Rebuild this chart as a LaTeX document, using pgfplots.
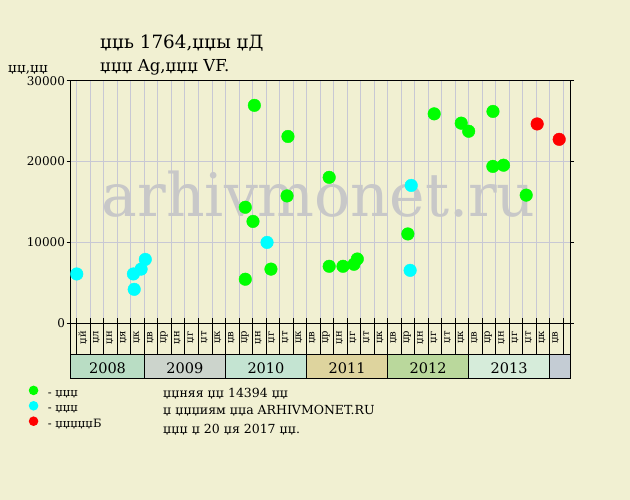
\documentclass[border=0pt]{standalone}
\usepackage{fontspec}
\setmainfont{DejaVu Serif}
\usepackage{pgfplots}
\pgfplotsset{compat=1.18}
\definecolor{bg}{RGB}{241,240,210}
\definecolor{gridc}{RGB}{200,200,212}
\definecolor{wm}{RGB}{200,200,200}
\definecolor{cg}{RGB}{0,255,0}
\definecolor{cc}{RGB}{0,255,255}
\definecolor{cr}{RGB}{255,0,0}
\definecolor{y08}{RGB}{185,221,196}
\definecolor{y09}{RGB}{204,212,204}
\definecolor{y10}{RGB}{196,228,210}
\definecolor{y11}{RGB}{222,212,158}
\definecolor{y12}{RGB}{186,216,156}
\definecolor{y13}{RGB}{214,236,218}
\definecolor{y14}{RGB}{196,204,212}
\newcommand{\fs}[1]{\fontsize{#1}{#1}\selectfont}
\newcommand{\ml}[2]{\node[rotate=90,font=\fs{10},inner sep=0pt] at (axis cs:#1,-1756) {#2};}
\begin{document}
\begin{tikzpicture}
\fill[bg] (0pt,0pt) rectangle (630pt,500pt);
\useasboundingbox (0pt,0pt) rectangle (630pt,500pt);
\node[anchor=base west, inner sep=0pt, font=\fs{18.3}] at (100pt,451.7pt) {џџь 1764,џџы џД};
\node[anchor=base west, inner sep=0pt, font=\fs{16.5}] at (100pt,428.7pt) {џџџ Ag,џџџ VF.};
\node[anchor=base west, inner sep=0pt, font=\fs{13.5}] at (8pt,427.5pt) {џџ,џџ};
\node[anchor=base west, inner sep=0pt, font=\fs{12.5}] at (163pt,102.7pt) {џџняя џџ 14394 џџ};
\node[anchor=base west, inner sep=0pt, font=\fs{12.5}] at (163pt,85pt) {џ џџџиям џџа ARHIVMONET.RU};
\node[anchor=base west, inner sep=0pt, font=\fs{12.5}] at (163pt,66.7pt) {џџџ џ 20 џя 2017 џџ.};
\begin{axis}[
  at={(70.7pt,176.7pt)}, anchor=south west,
  scale only axis, width=499.3pt, height=242.6pt,
  xmin=-0.45, xmax=36.5, ymin=0, ymax=30000,
  xtick={0,...,36}, xticklabels={},
  ytick={0,10000,20000,30000},
  xmajorgrids, ymajorgrids,
  grid style={gridc, line width=0.8pt},
  axis line style={line width=1pt},
  tick align=outside, major tick length=4pt,
  xtick style={draw=none},
  ytick style={black, line width=0.8pt},
  yticklabel style={font=\fs{12}, inner sep=1.5pt,
    /pgf/number format/assume math mode=true,
    /pgf/number format/set thousands separator={}},
  scaled y ticks=false,
  clip=false,
  legend style={draw=none, fill=none, at={(-0.084,-0.256)}, anchor=north west,
    inner sep=0pt, outer sep=0pt, font=\fs{11.5}, row sep=2.4pt,
    nodes={inner sep=0pt, anchor=west, text height=8pt, text depth=2pt}},
  legend cell align=left,
  legend image code/.code={\fill[draw=none] (4.8pt,3pt) circle (4.8pt); \path[draw=none,fill=none] (0pt,-2pt) rectangle (19pt,8pt);},
]
\node[font=\fs{60}, text=wm, anchor=base, inner sep=0pt] at (axis cs:17.9,13180) {arhivmonet.ru};

\addplot[only marks, mark=*, color=cg, mark size=6.3pt, mark options={draw=none}] coordinates {
(12.47,14350) (13.14,26950) (13.04,12600) (12.47,5450) (14.37,6700) (15.63,23100) (15.56,15750)
(18.68,18050) (18.68,7050) (19.70,7050) (20.51,7300) (20.76,7950) (24.5,11050) (26.45,25900)
(28.45,24750) (29.0,23750) (30.8,26200) (30.79,19400) (31.58,19550) (33.26,15850)};
\addlegendentry{- џџџ}
\addplot[only marks, mark=*, color=cc, mark size=6.3pt, mark options={draw=none}] coordinates {
(0,6100) (4.19,6100) (4.25,4200) (4.76,6700) (5.07,7900) (14.08,10000) (24.75,17050) (24.67,6550)};
\addlegendentry{- џџџ}
\addplot[only marks, mark=*, color=cr, mark size=6.3pt, mark options={draw=none}] coordinates {
(34.07,24650) (35.7,22750)};
\addlegendentry{- џџџџџБ}

% year boxes
\fill[y08] (axis cs:-0.45,-6800) rectangle (axis cs:5,-3920);
\fill[y09] (axis cs:5,-6800) rectangle (axis cs:11,-3920);
\fill[y10] (axis cs:11,-6800) rectangle (axis cs:17,-3920);
\fill[y11] (axis cs:17,-6800) rectangle (axis cs:23,-3920);
\fill[y12] (axis cs:23,-6800) rectangle (axis cs:29,-3920);
\fill[y13] (axis cs:29,-6800) rectangle (axis cs:35,-3920);
\fill[y14] (axis cs:35,-6800) rectangle (axis cs:36.5,-3920);
\pgfplotsinvokeforeach{0,...,36}{\draw[line width=0.8pt] (axis cs:#1,-3920) -- (axis cs:#1,618);}
\pgfplotsinvokeforeach{5,11,17,23,29,35}{\draw[line width=1pt] (axis cs:#1,-6800) -- (axis cs:#1,-3920);}
\draw[line width=1pt] (axis cs:-0.45,0) -- (axis cs:-0.45,-6800) -- (axis cs:36.5,-6800) -- (axis cs:36.5,0);
\draw[line width=1pt] (axis cs:-0.45,-3920) -- (axis cs:36.5,-3920);
\node[font=\fs{14.5}, anchor=base] at (axis cs:2.275,-6183) {2008};
\node[font=\fs{14.5}, anchor=base] at (axis cs:8,-6183) {2009};
\node[font=\fs{14.5}, anchor=base] at (axis cs:14,-6183) {2010};
\node[font=\fs{14.5}, anchor=base] at (axis cs:20,-6183) {2011};
\node[font=\fs{14.5}, anchor=base] at (axis cs:26,-6183) {2012};
\node[font=\fs{14.5}, anchor=base] at (axis cs:32,-6183) {2013};
% month labels
\ml{0.45}{џй}\ml{1.45}{џл}\ml{2.45}{џн}\ml{3.45}{џя}\ml{4.45}{џк}
\ml{5.45}{џв}\ml{6.45}{џр}\ml{7.45}{џн}\ml{8.45}{џг}\ml{9.45}{џт}\ml{10.45}{џк}
\ml{11.45}{џв}\ml{12.45}{џр}\ml{13.45}{џн}\ml{14.45}{џг}\ml{15.45}{џт}\ml{16.45}{џк}
\ml{17.45}{џв}\ml{18.45}{џр}\ml{19.45}{џн}\ml{20.45}{џг}\ml{21.45}{џт}\ml{22.45}{џк}
\ml{23.45}{џв}\ml{24.45}{џр}\ml{25.45}{џн}\ml{26.45}{џг}\ml{27.45}{џт}\ml{28.45}{џк}
\ml{29.45}{џв}\ml{30.45}{џр}\ml{31.45}{џн}\ml{32.45}{џг}\ml{33.45}{џт}\ml{34.45}{џк}
\ml{35.45}{џв}
\end{axis}
\end{tikzpicture}
\end{document}
